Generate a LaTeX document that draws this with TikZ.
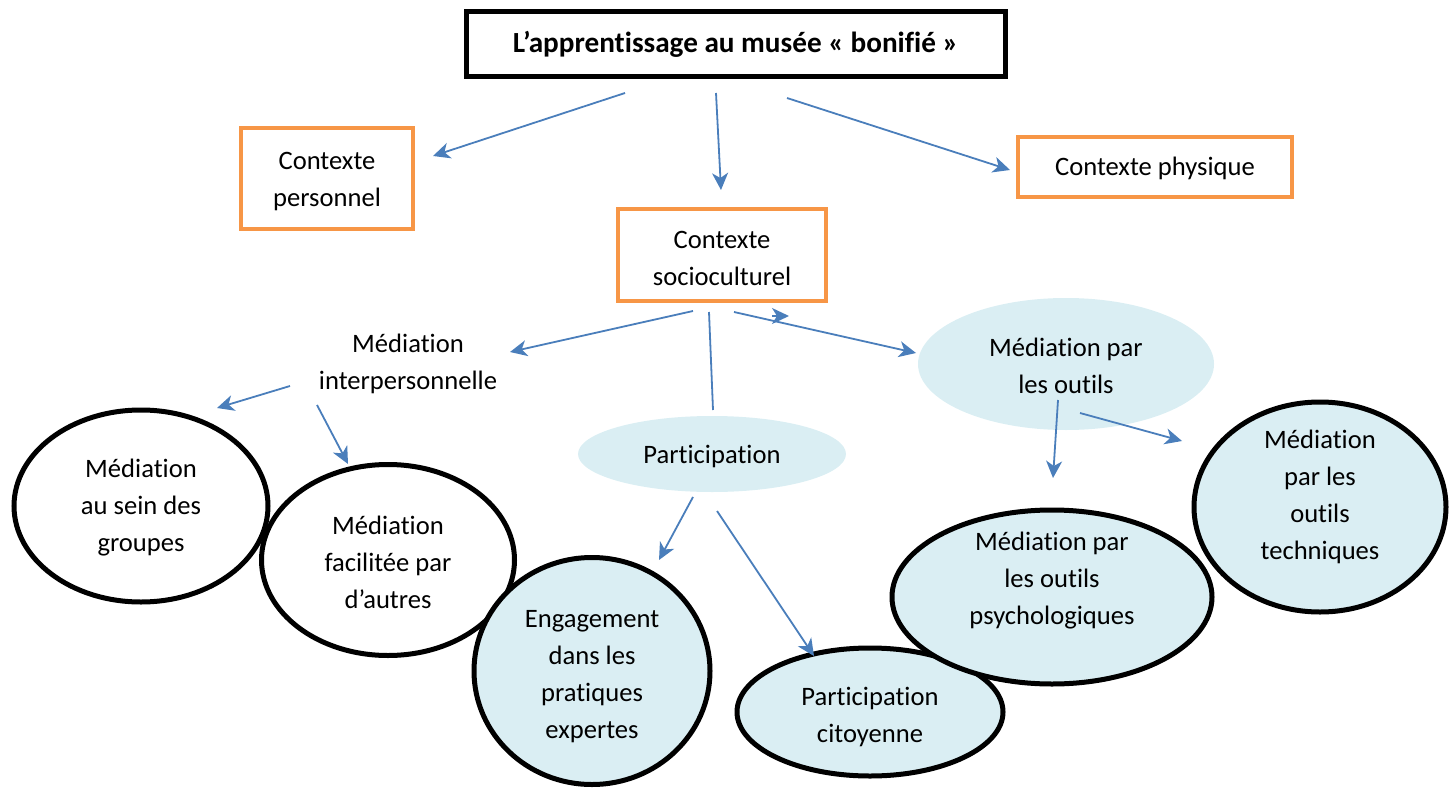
\documentclass[tikz,border=0pt]{standalone}
\usepackage{fontspec}
\setmainfont{Carlito}[RawFeature={-liga;-clig;-dlig;-calt}]
\usetikzlibrary{shapes.geometric,arrows.meta}
\definecolor{ctxorange}{HTML}{F79646}
\definecolor{linkblue}{HTML}{4A7EBB}
\definecolor{paleblue}{HTML}{DAEEF3}
\begin{document}
\begin{tikzpicture}[x=0.5pt,y=-0.5pt,
  font=\fontsize{13.3}{18.5}\selectfont,
  titlebox/.style={draw=black,line width=2.5pt,rectangle,minimum width=269.5pt,minimum height=32.5pt,font=\fontsize{14.6}{18.5}\selectfont\bfseries},
  ctxbox/.style={draw=ctxorange,line width=2pt,rectangle,align=center,inner sep=0pt},
  softoval/.style={ellipse,fill=paleblue,draw=none,inner sep=0pt},
  ringoval/.style={ellipse,draw=black,line width=2.5pt,inner sep=0pt},
  filledring/.style={ringoval,fill=paleblue},
  arr/.style={draw=linkblue,line width=0.9pt,-{Stealth[length=8.5pt,width=8pt,inset=2.5pt]}},
  plainlink/.style={draw=linkblue,line width=0.9pt}
]
\useasboundingbox (0,0) rectangle (1456,792);

% top title
\node[titlebox] (title) at (735.5,44.5) {L’apprentissage au musée « bonifié »};

% the three contexts
\node[ctxbox,minimum width=86pt,minimum height=50.5pt] (perso) at (327,178.5) {\rule{0pt}{12pt}Contexte\\personnel};
\node[ctxbox,minimum width=137pt,minimum height=30pt] (physique) at (1155,167) {\rule{0pt}{11pt}Contexte physique};
\node[ctxbox,minimum width=104pt,minimum height=46pt] (socio) at (722,255) {\rule{0pt}{12pt}Contexte\\socioculturel};

% second level
\node[align=center] (interp) at (408,364) {Médiation\\interpersonnelle};
\node[softoval,minimum width=148pt,minimum height=66pt,label={[align=center,yshift=-1pt]center:Médiation par\\les outils}] (outils) at (1066,364) {};
\node[softoval,minimum width=134pt,minimum height=38pt,label={[yshift=-1pt]center:Participation}] (particip) at (712,454) {};

% third level
\node[ringoval,fill=white,minimum width=127pt,minimum height=96pt,label={[align=center,yshift=-1pt]center:Médiation\\au sein des\\groupes}] (groupes) at (141,506) {};
\node[ringoval,fill=white,minimum width=126.5pt,minimum height=95.5pt,label={[align=center,yshift=-1pt]center:Médiation\\facilitée par\\d’autres}] (facil) at (388,560) {};
\node[filledring,minimum width=118pt,minimum height=113.5pt,label={[align=center,yshift=-3pt]center:Engagement\\dans les\\pratiques\\expertes}] (engag) at (592,671) {};
\node[filledring,minimum width=133pt,minimum height=64pt,label={[align=center,yshift=-2.5pt]center:Participation\\citoyenne}] (citoy) at (870,712) {};
\node[filledring,minimum width=160pt,minimum height=87pt,label={[align=center,yshift=8pt]center:Médiation par\\les outils\\psychologiques}] (psycho) at (1052,597) {};
\node[filledring,minimum width=126pt,minimum height=105pt,label={[align=center,yshift=5pt]center:Médiation\\par les\\outils\\techniques}] (techn) at (1320,507) {};

% connectors
\draw[arr] ([shift={(-110.5,48.5)}]title.center) -- ([shift={(106,-22.5)}]perso.center);
\draw[arr] ([shift={(-19.5,48.5)}]title.center) -- ([shift={(-1,-65)}]socio.center);
\draw[arr] ([shift={(51.5,53.5)}]title.center) -- ([shift={(-145,3)}]physique.center);

\draw[arr] ([shift={(-29,56)}]socio.center) -- ([shift={(102,-12)}]interp.center);
\draw[plainlink] ([shift={(-13,57)}]socio.center) -- ([shift={(1,-44)}]particip.center);
\draw[arr] ([shift={(12,57)}]socio.center) -- ([shift={(-150,-11)}]outils.center);
\draw[arr] ([shift={(50,61)}]socio.center) -- ([shift={(67,61)}]socio.center);

\draw[arr] ([shift={(-118,22)}]interp.center) -- ([shift={(76,-98)}]groupes.center);
\draw[arr] ([shift={(-91,41)}]interp.center) -- ([shift={(-40,-96)}]facil.center);

\draw[arr] ([shift={(-19,43)}]particip.center) -- ([shift={(67,-111)}]engag.center);
\draw[arr] ([shift={(5,57)}]particip.center) -- ([shift={(-56,-56)}]citoy.center);

\draw[arr] ([shift={(-8,36)}]outils.center) -- ([shift={(1,-119)}]psycho.center);
\draw[arr] ([shift={(14,49)}]outils.center) -- ([shift={(-138,-66)}]techn.center);
\end{tikzpicture}
\end{document}
